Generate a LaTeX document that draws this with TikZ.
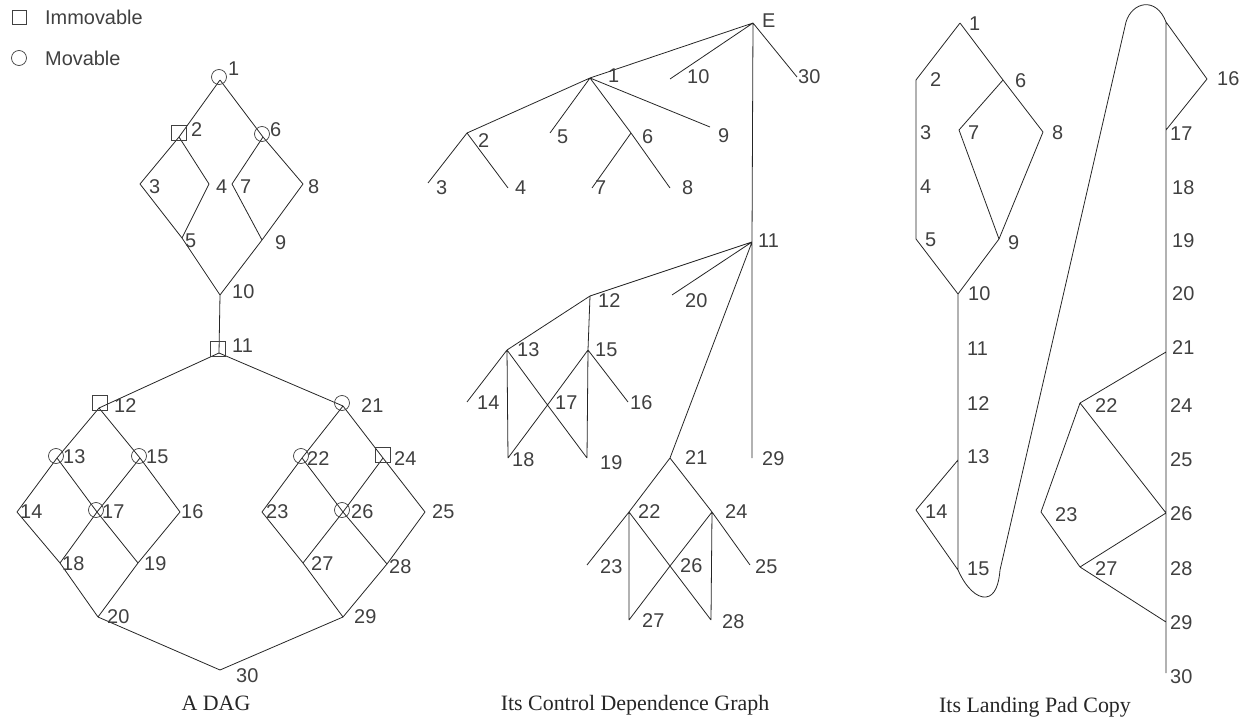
\documentclass[tikz,border=0pt]{standalone}
\usepackage{fontspec}
\setmainfont{Liberation Serif}
\setsansfont{Liberation Sans}
\tikzset{
  edge/.style={draw=black!85, line width=0.8bp},
  lbl/.style={anchor=west, inner sep=0pt, text=black!75, font=\sffamily\fontsize{20}{24}\selectfont},
  mov/.style={circle, draw=black!75, line width=0.7bp, minimum size=15bp, inner sep=0pt},
  imm/.style={rectangle, draw=black!75, line width=0.7bp, minimum size=15bp, inner sep=0pt},
  captext/.style={anchor=center, inner sep=0pt, text=black!85, font=\rmfamily\fontsize{22}{26}\selectfont}
}
\begin{document}
\begin{tikzpicture}[x=1bp,y=-1bp]
\useasboundingbox (0,0) rectangle (1249,719);

% ---------------- Legend ----------------
\node[imm, minimum size=14bp] (legsq) at (19,17) {};
\node[lbl] (legimm) at (45,17) {Immovable};
\node[mov] (legci) at (19,58) {};
\node[lbl] (legmov) at (45,58) {Movable};

% ---------------- Panel 1: A DAG ----------------
\coordinate (a1) at (220,80);
\coordinate (a2) at (179,137);
\coordinate (a6) at (263,137);
\coordinate (a3) at (140,184);
\coordinate (a4) at (209,184);
\coordinate (a7) at (232,184);
\coordinate (a8) at (303,184);
\coordinate (a5) at (182,238);
\coordinate (a9) at (262,240);
\coordinate (a10) at (220,295);
\coordinate (a11) at (219,353);
\coordinate (a12) at (99,408);
\coordinate (a21) at (343,406);
\coordinate (a13) at (57,458);
\coordinate (a15) at (140,458);
\coordinate (a22) at (302,458);
\coordinate (a24) at (383,458);
\coordinate (a14) at (17,512);
\coordinate (a17) at (97,512);
\coordinate (a16) at (180,512);
\coordinate (a23) at (262,512);
\coordinate (a26) at (343,512);
\coordinate (a25) at (425,512);
\coordinate (a18) at (60,563);
\coordinate (a19) at (138,563);
\coordinate (a27) at (303,563);
\coordinate (a28) at (387,564);
\coordinate (a20) at (98,617);
\coordinate (a29) at (343,617);
\coordinate (a30) at (220,670);

\draw[edge] (a1)--(a2) (a1)--(a6) (a2)--(a3) (a2)--(a4) (a6)--(a7) (a6)--(a8)
  (a3)--(a5) (a4)--(a5) (a7)--(a9) (a8)--(a9) (a5)--(a10) (a9)--(a10) (a10)--(a11)
  (a11)--(a12) (a11)--(a21) (a12)--(a13) (a12)--(a15) (a13)--(a14) (a13)--(a17)
  (a15)--(a17) (a15)--(a16) (a14)--(a18) (a17)--(a18) (a17)--(a19) (a16)--(a19)
  (a18)--(a20) (a19)--(a20) (a20)--(a30)
  (a21)--(a22) (a21)--(a24) (a22)--(a23) (a22)--(a26) (a24)--(a26) (a24)--(a25)
  (a23)--(a27) (a26)--(a27) (a26)--(a28) (a25)--(a28) (a27)--(a29) (a28)--(a29) (a29)--(a30);

% markers
\node[mov] (ma1) at ([shift={(-1,-3)}]a1) {};
\node[mov] (ma6) at ([shift={(-1,-3)}]a6) {};
\node[mov] (ma13) at ([shift={(-1,-2)}]a13) {};
\node[mov] (ma15) at ([shift={(-1,-2)}]a15) {};
\node[mov] (ma17) at ([shift={(-1,-2)}]a17) {};
\node[mov] (ma21) at ([shift={(-1,-3)}]a21) {};
\node[mov] (ma22) at ([shift={(-1,-2)}]a22) {};
\node[mov] (ma26) at ([shift={(-1,-2)}]a26) {};
\node[imm] (ma2) at ([shift={(0,-4)}]a2) {};
\node[imm] (ma11) at ([shift={(-1,-4)}]a11) {};
\node[imm] (ma12) at ([shift={(1,-5)}]a12) {};
\node[imm] (ma24) at ([shift={(0,-3)}]a24) {};

% labels
\node[lbl] (ta1) at (228,69) {1};
\node[lbl] (ta2) at (191,130) {2};
\node[lbl] (ta6) at (270,130) {6};
\node[lbl] (ta3) at (149,187) {3};
\node[lbl] (ta4) at (216,187) {4};
\node[lbl] (ta7) at (240,187) {7};
\node[lbl] (ta8) at (308,187) {8};
\node[lbl] (ta5) at (185,241) {5};
\node[lbl] (ta9) at (275,243) {9};
\node[lbl] (ta10) at (232,292) {10};
\node[lbl] (ta11) at (232,346) {11};
\node[lbl] (ta12) at (114,406) {12};
\node[lbl] (ta21) at (361,406) {21};
\node[lbl] (ta13) at (63,457) {13};
\node[lbl] (ta15) at (146,457) {15};
\node[lbl] (ta22) at (307,459) {22};
\node[lbl] (ta24) at (394,459) {24};
\node[lbl] (ta14) at (20,512) {14};
\node[lbl] (ta17) at (102,512) {17};
\node[lbl] (ta16) at (181,512) {16};
\node[lbl] (ta23) at (266,512) {23};
\node[lbl] (ta26) at (351,512) {26};
\node[lbl] (ta25) at (432,512) {25};
\node[lbl] (ta18) at (62,564) {18};
\node[lbl] (ta19) at (144,564) {19};
\node[lbl] (ta27) at (311,564) {27};
\node[lbl] (ta28) at (389,567) {28};
\node[lbl] (ta20) at (107,617) {20};
\node[lbl] (ta29) at (354,617) {29};
\node[lbl] (ta30) at (236,676) {30};
\node[captext] (capa) at (216,703) {A DAG};

% ---------------- Panel 2: Control Dependence Graph ----------------
\coordinate (cE) at (753,23);
\coordinate (c1) at (590,78);
\coordinate (c10) at (670,79);
\coordinate (c30) at (797,77);
\coordinate (c11) at (752,242);
\coordinate (c2) at (467,133);
\coordinate (c5) at (550,133);
\coordinate (c6) at (631,133);
\coordinate (c9) at (710,127);
\coordinate (c3) at (428,183);
\coordinate (c4) at (508,188);
\coordinate (c7) at (592,188);
\coordinate (c8) at (670,188);
\coordinate (c12) at (590,296);
\coordinate (c20) at (672,295);
\coordinate (c21) at (670,458);
\coordinate (c29) at (752,458);
\coordinate (c13) at (507,350);
\coordinate (c15) at (588,350);
\coordinate (c14) at (467,402);
\coordinate (c17) at (547.5,405);
\coordinate (c16) at (628,402);
\coordinate (c18) at (508,458);
\coordinate (c19) at (587,458);
\coordinate (c22) at (629,512);
\coordinate (c24) at (712,512);
\coordinate (c23) at (587,565);
\coordinate (c26) at (670,566);
\coordinate (c25) at (750,565);
\coordinate (c27) at (629,620);
\coordinate (c28) at (711,620);

\draw[edge] (cE)--(c1) (cE)--(c10) (cE)--(c30) (cE)--(c11) (c11)--(c29)
  (c1)--(c2) (c1)--(c5) (c1)--(c6) (c1)--(c9) (c2)--(c3) (c2)--(c4) (c6)--(c7) (c6)--(c8)
  (c11)--(c12) (c11)--(c20) (c11)--(c21)
  (c12)--(c13) (c12)--(c15) (c13)--(c14) (c13)--(c18) (c13)--(c17) (c17)--(c19)
  (c15)--(c17) (c17)--(c18) (c15)--(c19) (c15)--(c16)
  (c21)--(c22) (c21)--(c24) (c22)--(c23) (c22)--(c27) (c22)--(c26) (c26)--(c28)
  (c24)--(c26) (c26)--(c27) (c24)--(c28) (c24)--(c25);

\node[lbl] (tcE) at (762,21) {E};
\node[lbl] (tc1) at (608,76) {1};
\node[lbl] (tc10) at (687,77) {10};
\node[lbl] (tc30) at (798,77) {30};
\node[lbl] (tc2) at (478,141) {2};
\node[lbl] (tc5) at (557,137) {5};
\node[lbl] (tc6) at (642,137) {6};
\node[lbl] (tc9) at (718,136) {9};
\node[lbl] (tc3) at (436,188) {3};
\node[lbl] (tc4) at (515,188) {4};
\node[lbl] (tc7) at (595,188) {7};
\node[lbl] (tc8) at (682,188) {8};
\node[lbl] (tc11) at (758,241) {11};
\node[lbl] (tc12) at (598,301) {12};
\node[lbl] (tc20) at (685,301) {20};
\node[lbl] (tc13) at (517,350) {13};
\node[lbl] (tc15) at (595,350) {15};
\node[lbl] (tc14) at (477,403) {14};
\node[lbl] (tc17) at (555,403) {17};
\node[lbl] (tc16) at (630,403) {16};
\node[lbl] (tc18) at (512,460) {18};
\node[lbl] (tc19) at (600,463) {19};
\node[lbl] (tc21) at (685,458) {21};
\node[lbl] (tc29) at (762,459) {29};
\node[lbl] (tc22) at (638,512) {22};
\node[lbl] (tc24) at (725,512) {24};
\node[lbl] (tc23) at (600,567) {23};
\node[lbl] (tc26) at (680,566) {26};
\node[lbl] (tc25) at (755,567) {25};
\node[lbl] (tc27) at (642,621) {27};
\node[lbl] (tc28) at (722,622) {28};
\node[captext] (capc) at (635,705) {Its Control Dependence Graph};

% ---------------- Panel 3: Landing Pad Copy ----------------
\coordinate (l1) at (960,23);
\coordinate (l2) at (916,80);
\coordinate (l5) at (916,239);
\coordinate (l6) at (1003,80);
\coordinate (l7) at (959,130);
\coordinate (l8) at (1043,132);
\coordinate (l9) at (999,239);
\coordinate (l10) at (958,294);
\coordinate (l13) at (958,460);
\coordinate (l14) at (916,510);
\coordinate (l15) at (958,570);
\coordinate (lT) at (1166,22);
\coordinate (l16) at (1207,79);
\coordinate (l17) at (1166,130);
\coordinate (l21) at (1166,352);
\coordinate (l26) at (1166,513);
\coordinate (l29) at (1166,622);
\coordinate (l30) at (1166,673);
\coordinate (l22) at (1080,403);
\coordinate (l23) at (1041,512);
\coordinate (l27) at (1080,567);

\draw[edge] (l1)--(l2) (l1)--(l6) (l6)--(l7) (l6)--(l8) (l2)--(l5)
  (l7)--(l9) (l8)--(l9) (l5)--(l10) (l9)--(l10) (l10)--(l15)
  (l13)--(l14) (l14)--(l15)
  (lT)--(l16) (l16)--(l17) (lT)--(l30)
  (l21)--(l22) (l22)--(l23) (l22)--(l26) (l23)--(l27) (l27)--(l26) (l27)--(l29);
\draw[edge] (l15) .. controls (966,588) and (977,598) .. (986,597)
  .. controls (995,596) and (999,584) .. (1000,570)
  -- (1126,22) .. controls (1132,2) and (1156,-4) .. (lT);

\node[lbl] (tl1) at (969,24) {1};
\node[lbl] (tl2) at (930,80) {2};
\node[lbl] (tl6) at (1015,81) {6};
\node[lbl] (tl3) at (920,133) {3};
\node[lbl] (tl7) at (968,133) {7};
\node[lbl] (tl8) at (1052,133) {8};
\node[lbl] (tl4) at (920,187) {4};
\node[lbl] (tl5) at (925,240) {5};
\node[lbl] (tl9) at (1008,243) {9};
\node[lbl] (tl10) at (968,294) {10};
\node[lbl] (tl11) at (967,349) {11};
\node[lbl] (tl12) at (967,404) {12};
\node[lbl] (tl13) at (967,457) {13};
\node[lbl] (tl14) at (925,512) {14};
\node[lbl] (tl15) at (967,569) {15};
\node[lbl] (tl16) at (1217,79) {16};
\node[lbl] (tl17) at (1170,134) {17};
\node[lbl] (tl18) at (1172,188) {18};
\node[lbl] (tl19) at (1172,241) {19};
\node[lbl] (tl20) at (1172,294) {20};
\node[lbl] (tl21) at (1172,348) {21};
\node[lbl] (tl24) at (1170,406) {24};
\node[lbl] (tl25) at (1170,460) {25};
\node[lbl] (tl26) at (1170,514) {26};
\node[lbl] (tl28) at (1170,569) {28};
\node[lbl] (tl29) at (1170,623) {29};
\node[lbl] (tl30) at (1170,677) {30};
\node[lbl] (tl22) at (1095,406) {22};
\node[lbl] (tl23) at (1055,515) {23};
\node[lbl] (tl27) at (1095,569) {27};
\node[captext] (capl) at (1035,707) {Its Landing Pad Copy};
\end{tikzpicture}
\end{document}
